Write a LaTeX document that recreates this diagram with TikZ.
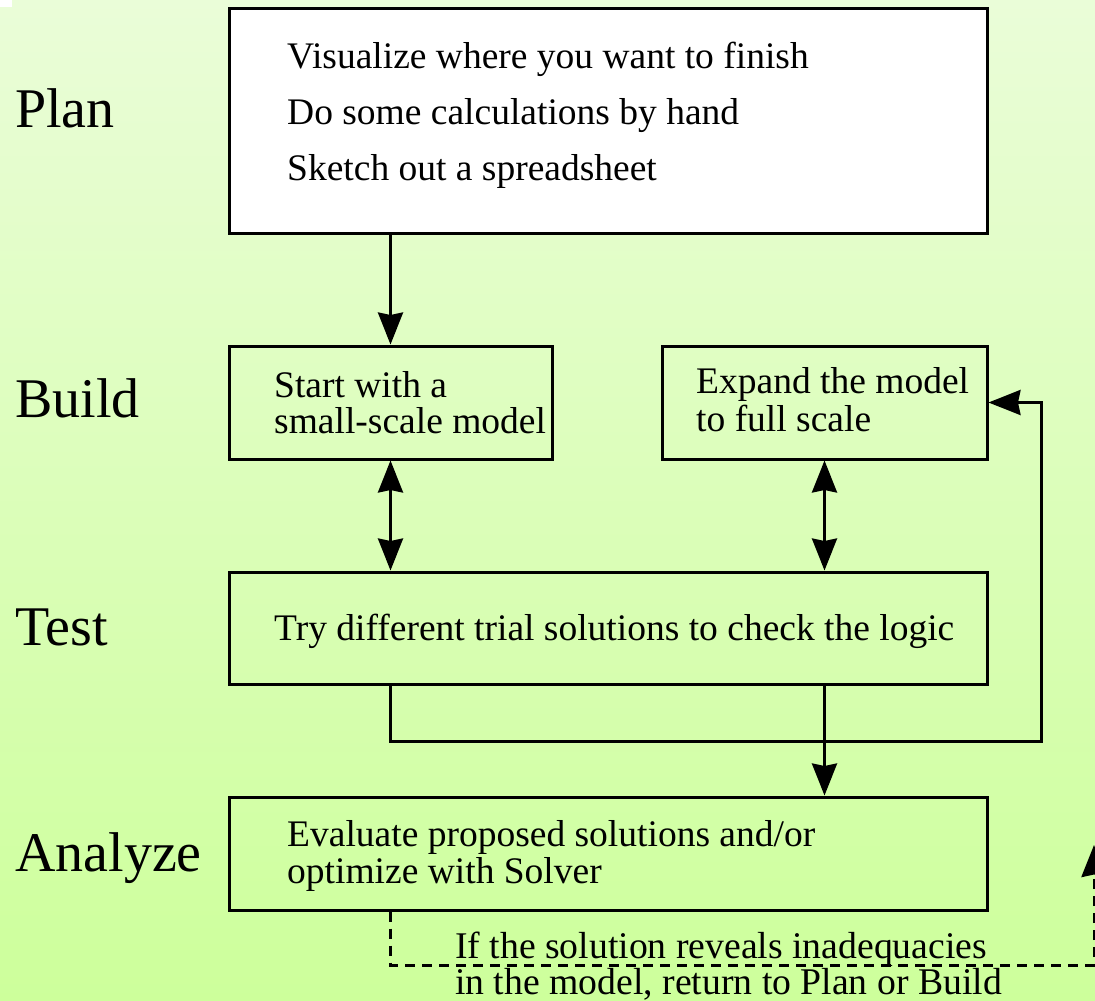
\documentclass[tikz,border=0pt]{standalone}
\usepackage{fontspec}
\setmainfont{Liberation Serif}
\usetikzlibrary{arrows.meta}
\definecolor{bgtop}{RGB}{234,253,216}
\definecolor{bgbot}{RGB}{205,255,155}
\begin{document}
\begin{tikzpicture}[x=1pt,y=-1pt,
  box/.style={draw, line width=3pt, inner sep=0pt},
  txt/.style={anchor=base west, inner sep=0pt, font=\fontsize{37.5}{45}\selectfont},
  dtxt/.style={anchor=base west, inner sep=0pt, font=\fontsize{37.7}{45}\selectfont},
  lab/.style={anchor=base west, inner sep=0pt, font=\fontsize{56}{60}\selectfont},
  tipk/.tip={Stealth[length=32pt,width=25pt,inset=2.5pt]},
  arr/.style={line width=3pt, -tipk},
  darr/.style={line width=3pt, tipk-tipk},
  dashline/.style={line width=3pt, dash pattern=on 10pt off 7pt, -tipk}
]
\useasboundingbox (0,0) rectangle (1095,1001);
\fill[top color=bgtop,bottom color=bgbot] (0,0) rectangle (1095,1001);
\fill[white] (0,0) rectangle (12,7);

% boxes
\node[box, fill=white, minimum width=758pt, minimum height=225pt] (plan) at (608,120.5) {};
\node[box, minimum width=323pt, minimum height=113pt] (build1) at (390.5,402.5) {};
\node[box, minimum width=325pt, minimum height=113pt] (build2) at (824.5,402.5) {};
\node[box, minimum width=758pt, minimum height=112pt] (test) at (608,628) {};
\node[box, minimum width=758pt, minimum height=113pt] (analyze) at (608,853.5) {};

% labels
\node[lab] (lplan) at (15,127) {Plan};
\node[lab] (lbuild) at (15,417) {Build};
\node[lab] (ltest) at (15,645) {Test};
\node[lab] (lanal) at (15,871) {Analyze};

% texts
\node[txt] (p1) at (287,68) {Visualize where you want to finish};
\node[txt] (p2) at (287,124) {Do some calculations by hand};
\node[txt] (p3) at (287,180) {Sketch out a spreadsheet};
\node[txt] (b11) at (274,397) {Start with a};
\node[txt] (b12) at (274,433) {small-scale model};
\node[txt] (b21) at (696,393) {Expand the model};
\node[txt] (b22) at (696,431) {to full scale};
\node[txt] (t1) at (274,640) {Try different trial solutions to check the logic};
\node[txt] (a1) at (287,846) {Evaluate proposed solutions and/or};
\node[txt] (a2) at (287,883) {optimize with Solver};
\node[dtxt] (d1) at (455,958) {If the solution reveals inadequacies};
\node[dtxt] (d2) at (455,994) {in the model, return to Plan or Build};

% connectors
\coordinate (loopr) at (1041,741);
\coordinate (dr) at (1094,965);
\coordinate (dtip) at (1094,845);
\draw[arr] (plan.south -| build1) -- (build1.north);
\draw[darr] (build1.south) -- (build1.south |- test.north);
\draw[darr] (build2.south) -- (build2.south |- test.north);
\draw[arr] (test.south -| build2) -- (analyze.north -| build2);
\draw[arr] (test.south -| build1) |- (loopr) |- (build2.east);
\draw[dashline] (analyze.south -| build1) |- (dr) -- (dtip);
\end{tikzpicture}
\end{document}
